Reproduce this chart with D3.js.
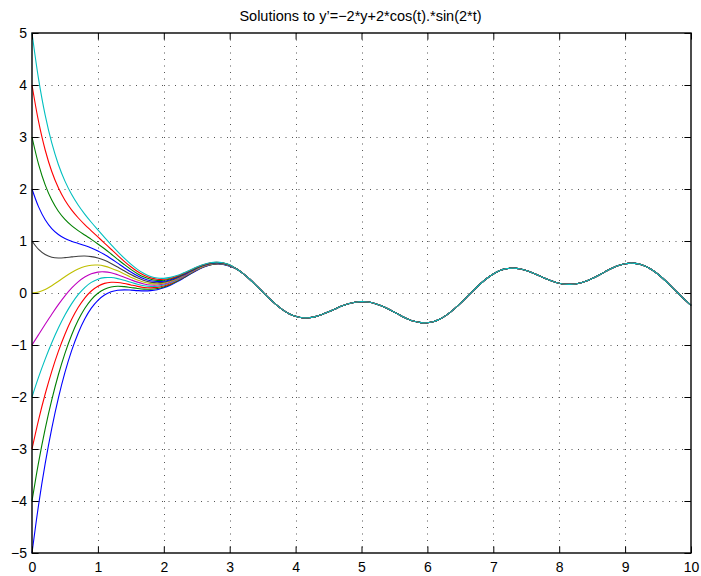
<!DOCTYPE html>
<html>
<head>
<meta charset="utf-8">
<script src="https://cdn.jsdelivr.net/npm/d3@7"></script>
<style>
  html, body { margin: 0; padding: 0; background: #ffffff; }
  svg { display: block; }
  text { font-family: "Liberation Sans", Arial, Helvetica, sans-serif; }
</style>
</head>
<body>
<svg id="chart" width="701" height="576"></svg>
<script>
// ---- data ----
const titleText = "Solutions to y\u2019=\u22122*y+2*cos(t).*sin(2*t)";

// time samples for the early (separated) part of each solution
const tHead = [0, 0.1, 0.2, 0.3, 0.4, 0.5, 0.6, 0.7, 0.8, 0.9, 1.0, 1.1, 1.2, 1.3, 1.4, 1.5, 1.6, 1.7, 1.8, 1.9, 2.0, 2.1, 2.2, 2.3, 2.4, 2.5, 2.6, 2.7, 2.8, 2.9, 3.0];
// time samples for the late part where all solutions coincide
const tTail = [3.1, 3.2, 3.3, 3.4, 3.5, 3.6, 3.7, 3.8, 3.9, 4.0, 4.1, 4.2, 4.3, 4.4, 4.5, 4.6, 4.7, 4.8, 4.9, 5.0, 5.1, 5.2, 5.3, 5.4, 5.5, 5.6, 5.7, 5.8, 5.9, 6.0, 6.1, 6.2, 6.3, 6.4, 6.5, 6.6, 6.7, 6.8, 6.9, 7.0, 7.1, 7.2, 7.3, 7.4, 7.5, 7.6, 7.7, 7.8, 7.9, 8.0, 8.1, 8.2, 8.3, 8.4, 8.5, 8.6, 8.7, 8.8, 8.9, 9.0, 9.1, 9.2, 9.3, 9.4, 9.5, 9.6, 9.7, 9.8, 9.9, 10.0];

const initialValues = [-5, -4, -3, -2, -1, 0, 1, 2, 3, 4, 5];

const solM5 = [-5.000, -4.075, -3.283, -2.603, -2.022, -1.528, -1.113, -0.773, -0.501, -0.292, -0.140, -0.037, 0.025, 0.054, 0.061, 0.056, 0.046, 0.040, 0.045, 0.064, 0.099, 0.150, 0.214, 0.286, 0.362, 0.433, 0.494, 0.537, 0.557, 0.551, 0.517];
const solM4 = [-4.000, -3.256, -2.613, -2.055, -1.572, -1.160, -0.812, -0.526, -0.299, -0.127, -0.004, 0.074, 0.115, 0.129, 0.122, 0.105, 0.087, 0.074, 0.072, 0.086, 0.117, 0.165, 0.226, 0.296, 0.370, 0.440, 0.499, 0.541, 0.561, 0.554, 0.519];
const solM3 = [-3.000, -2.438, -1.942, -1.506, -1.123, -0.792, -0.511, -0.280, -0.097, 0.039, 0.131, 0.185, 0.206, 0.203, 0.183, 0.155, 0.128, 0.107, 0.099, 0.108, 0.135, 0.180, 0.238, 0.306, 0.378, 0.447, 0.505, 0.546, 0.564, 0.557, 0.522];
const solM2 = [-2.000, -1.619, -1.272, -0.957, -0.674, -0.424, -0.210, -0.033, 0.105, 0.204, 0.266, 0.296, 0.297, 0.277, 0.244, 0.205, 0.168, 0.140, 0.127, 0.131, 0.154, 0.195, 0.250, 0.317, 0.386, 0.453, 0.510, 0.550, 0.568, 0.560, 0.524];
const solM1 = [-1.000, -0.800, -0.602, -0.408, -0.224, -0.056, 0.092, 0.214, 0.307, 0.369, 0.402, 0.406, 0.388, 0.351, 0.305, 0.255, 0.209, 0.174, 0.154, 0.153, 0.172, 0.210, 0.263, 0.327, 0.395, 0.460, 0.516, 0.555, 0.572, 0.563, 0.527];
const sol0  = [0.000, 0.019, 0.069, 0.141, 0.225, 0.312, 0.393, 0.460, 0.509, 0.535, 0.537, 0.517, 0.478, 0.426, 0.365, 0.305, 0.250, 0.207, 0.181, 0.175, 0.190, 0.225, 0.275, 0.337, 0.403, 0.467, 0.521, 0.559, 0.575, 0.566, 0.529];
const solP1 = [1.000, 0.837, 0.739, 0.689, 0.674, 0.680, 0.694, 0.707, 0.711, 0.700, 0.672, 0.628, 0.569, 0.500, 0.426, 0.354, 0.291, 0.241, 0.209, 0.198, 0.209, 0.240, 0.287, 0.347, 0.411, 0.474, 0.527, 0.564, 0.579, 0.569, 0.532];
const solP2 = [2.000, 1.656, 1.409, 1.238, 1.124, 1.048, 0.995, 0.953, 0.912, 0.865, 0.808, 0.739, 0.660, 0.574, 0.487, 0.404, 0.331, 0.274, 0.236, 0.220, 0.227, 0.255, 0.300, 0.357, 0.419, 0.480, 0.532, 0.568, 0.583, 0.572, 0.534];
const solP3 = [3.000, 2.475, 2.080, 1.787, 1.573, 1.416, 1.296, 1.200, 1.114, 1.031, 0.943, 0.850, 0.750, 0.648, 0.548, 0.454, 0.372, 0.307, 0.263, 0.243, 0.245, 0.270, 0.312, 0.367, 0.428, 0.487, 0.538, 0.573, 0.586, 0.575, 0.537];
const solP4 = [4.000, 3.294, 2.750, 2.336, 2.022, 1.783, 1.598, 1.447, 1.316, 1.196, 1.078, 0.960, 0.841, 0.723, 0.609, 0.504, 0.413, 0.341, 0.291, 0.265, 0.264, 0.285, 0.324, 0.377, 0.436, 0.494, 0.543, 0.577, 0.590, 0.578, 0.539];
const solP5 = [5.000, 4.112, 3.420, 2.885, 2.472, 2.151, 1.899, 1.693, 1.518, 1.361, 1.214, 1.071, 0.932, 0.797, 0.669, 0.554, 0.454, 0.374, 0.318, 0.287, 0.282, 0.300, 0.336, 0.387, 0.444, 0.501, 0.549, 0.582, 0.594, 0.581, 0.542];

// common tail (t = 3.1 .. 10) shared by every solution
const steadyTail = [0.465, 0.377, 0.269, 0.148, 0.021, -0.104, -0.219, -0.319, -0.397, -0.449,
  -0.476, -0.476, -0.454, -0.414, -0.362, -0.306, -0.252, -0.207, -0.177, -0.165,
  -0.173, -0.201, -0.247, -0.305, -0.371, -0.438, -0.498, -0.544, -0.570, -0.572,
  -0.547, -0.494, -0.416, -0.316, -0.200, -0.074, 0.052, 0.173, 0.280, 0.367,
  0.431, 0.468, 0.479, 0.466, 0.432, 0.385, 0.330, 0.274, 0.225, 0.188,
  0.168, 0.167, 0.187, 0.226, 0.280, 0.343, 0.411, 0.474, 0.527, 0.562,
  0.574, 0.560, 0.519, 0.451, 0.360, 0.250, 0.127, 0.000, -0.124, -0.237];

const heads = [solM5, solM4, solM3, solM2, solM1, sol0, solP1, solP2, solP3, solP4, solP5];

// MATLAB-style colour order
const colorOrder = ["#0000ff", "#008000", "#ff0000", "#00bfbf", "#bf00bf", "#bfbf00", "#404040"];

const xTicks = [0, 1, 2, 3, 4, 5, 6, 7, 8, 9, 10];
const yTicks = [-5, -4, -3, -2, -1, 0, 1, 2, 3, 4, 5];

// ---- layout ----
const W = 701, H = 576;
const margin = { left: 32, right: 10, top: 33, bottom: 23 };
const pw = W - margin.left - margin.right;
const ph = H - margin.top - margin.bottom;
const tickLen = 6.6;

const svg = d3.select("#chart");
svg.append("rect").attr("width", W).attr("height", H).attr("fill", "#ffffff");

const g = svg.append("g").attr("transform", `translate(${margin.left},${margin.top})`);

const x = d3.scaleLinear().domain([0, 10]).range([0, pw]);
const y = d3.scaleLinear().domain([-5, 5]).range([ph, 0]);

// grid
const grid = g.append("g").attr("class", "grid");
grid.selectAll("line.vx").data(xTicks.filter(d => d > 0 && d < 10)).enter().append("line")
  .attr("x1", d => Math.round(x(d)) + 0.5).attr("x2", d => Math.round(x(d)) + 0.5)
  .attr("y1", 0).attr("y2", ph)
  .attr("stroke", "#555").attr("stroke-width", 1).attr("stroke-dasharray", "1,5.5");
grid.selectAll("line.hy").data(yTicks.filter(d => d > -5 && d < 5)).enter().append("line")
  .attr("y1", d => Math.round(y(d)) + 0.5).attr("y2", d => Math.round(y(d)) + 0.5)
  .attr("x1", 0).attr("x2", pw)
  .attr("stroke", "#555").attr("stroke-width", 1).attr("stroke-dasharray", "1,5.5");

// curves
const line = d3.line()
  .x(d => x(d[0]))
  .y(d => y(d[1]))
  .curve(d3.curveCatmullRom.alpha(0.5));

const curves = g.append("g").attr("class", "curves");
heads.forEach((h, i) => {
  const pts = tHead.map((t, j) => [t, h[j]]).concat(tTail.map((t, j) => [t, steadyTail[j]]));
  curves.append("path")
    .datum(pts)
    .attr("d", line)
    .attr("fill", "none")
    .attr("stroke", colorOrder[i % colorOrder.length])
    .attr("stroke-width", 1.1)
    .attr("data-y0", initialValues[i]);
});

// axes
const fmt = d => d < 0 ? "\u2212" + Math.abs(d) : String(d);

const axB = g.append("g").attr("transform", `translate(0,${ph})`)
  .call(d3.axisBottom(x).tickValues(xTicks).tickFormat(fmt).tickSizeInner(-tickLen).tickSizeOuter(0).tickPadding(9));
const axL = g.append("g")
  .call(d3.axisLeft(y).tickValues(yTicks).tickFormat(fmt).tickSizeInner(-tickLen).tickSizeOuter(0).tickPadding(5));
const axT = g.append("g")
  .call(d3.axisTop(x).tickValues(xTicks).tickFormat("").tickSizeInner(-tickLen).tickSizeOuter(0));
const axR = g.append("g").attr("transform", `translate(${pw},0)`)
  .call(d3.axisRight(y).tickValues(yTicks).tickFormat("").tickSizeInner(-tickLen).tickSizeOuter(0));

[axB, axL, axT, axR].forEach(a => {
  a.select(".domain").remove();
  a.selectAll(".tick line").attr("stroke", "#000").attr("stroke-width", 1);
  a.selectAll(".tick text").attr("fill", "#000").style("font-size", "14px")
    .style("font-family", "'Liberation Sans', Arial, Helvetica, sans-serif");
});

// box
g.append("rect")
  .attr("x", 0).attr("y", 0).attr("width", pw).attr("height", ph)
  .attr("fill", "none").attr("stroke", "#000").attr("stroke-width", 1.4);

// title
svg.append("text")
  .attr("x", margin.left + pw / 2 - 1)
  .attr("y", 20.5)
  .attr("text-anchor", "middle")
  .style("font-size", "14.5px")
  .attr("fill", "#000")
  .text(titleText);
</script>
</body>
</html>
